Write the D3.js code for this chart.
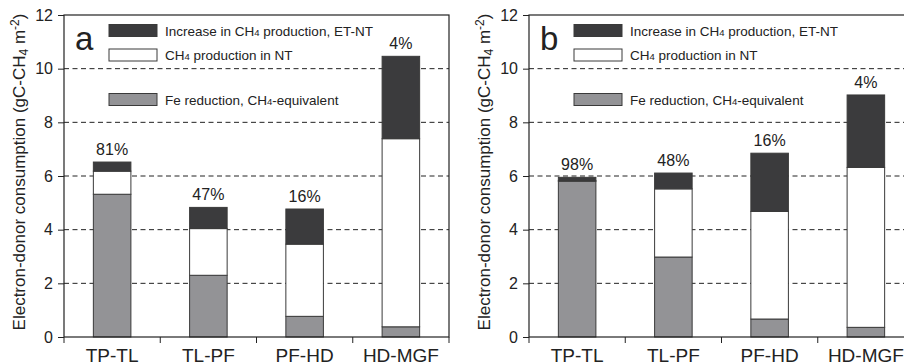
<!DOCTYPE html>
<html>
<head>
<meta charset="utf-8">
<script src="https://cdn.jsdelivr.net/npm/d3@7"></script>
<style>
  body { margin: 0; background: #fff; }
  svg { display: block; font-family: "Liberation Sans", Arial, sans-serif; }
</style>
</head>
<body>
<svg id="chart" width="904" height="364"></svg>
<script>
  var categories = ['TP-TL', 'TL-PF', 'PF-HD', 'HD-MGF'];
  var yTicks = [0, 2, 4, 6, 8, 10, 12];

  // panel a
  var feA = [5.32, 2.30, 0.77, 0.38];
  var ntA = [0.86, 1.74, 2.69, 7.01];
  var incA = [0.34, 0.79, 1.31, 3.07];
  var pctA = ['81%', '47%', '16%', '4%'];

  // panel b
  var feB = [5.80, 2.98, 0.67, 0.36];
  var ntB = [0.03, 2.54, 4.01, 5.96];
  var incB = [0.12, 0.59, 2.17, 2.70];
  var pctB = ['98%', '48%', '16%', '4%'];

  var seriesNames = ['Fe reduction, CH4-equivalent', 'CH4 production in NT', 'Increase in CH4 production, ET-NT'];
  var colors = ['#939396', '#ffffff', '#3b3b3d'];

  var svg = d3.select('#chart');
  var plotTop = 15, plotBottom = 337;
  var y = d3.scaleLinear().domain([0, 12]).range([plotBottom, plotTop]);

  function drawPanel(left, letter, fe, nt, inc, pct) {
    var width = 385;
    var x = d3.scaleBand().domain(categories).range([left, left + width]).padding(0);
    var barW = x.bandwidth() * 0.39;
    var g = svg.append('g');

    // dashed grid
    g.selectAll('line.grid')
      .data(yTicks.filter(function (d) { return d > 0 && d < 12; }))
      .enter().append('line')
      .attr('x1', left).attr('x2', left + width)
      .attr('y1', function (d) { return y(d); })
      .attr('y2', function (d) { return y(d); })
      .attr('stroke', '#222').attr('stroke-width', 1)
      .attr('stroke-dasharray', '5,3.5');

    // stacked bars
    var rows = categories.map(function (c, i) {
      return { cat: c, fe: fe[i], nt: nt[i], inc: inc[i], pct: pct[i] };
    });
    var stack = d3.stack().keys(['fe', 'nt', 'inc'])(rows);
    stack.forEach(function (layer, k) {
      g.selectAll(null)
        .data(layer)
        .enter().append('rect')
        .attr('x', function (d) { return x(d.data.cat) + (x.bandwidth() - barW) / 2; })
        .attr('width', barW)
        .attr('y', function (d) { return y(d[1]); })
        .attr('height', function (d) { return y(d[0]) - y(d[1]); })
        .attr('fill', colors[k])
        .attr('stroke', '#3a3a3a').attr('stroke-width', 1);
    });

    // percentage labels
    g.selectAll('text.pct')
      .data(rows)
      .enter().append('text')
      .attr('x', function (d) { return x(d.cat) + x.bandwidth() / 2; })
      .attr('y', function (d) { return y(d.fe + d.nt + d.inc) - 7; })
      .attr('text-anchor', 'middle')
      .attr('font-size', 16).attr('fill', '#222')
      .text(function (d) { return d.pct; });

    // frame
    g.append('rect')
      .attr('x', left).attr('y', plotTop)
      .attr('width', width).attr('height', plotBottom - plotTop)
      .attr('fill', 'none').attr('stroke', '#222').attr('stroke-width', 1.2);

    // y axis
    var yAxis = g.append('g')
      .attr('transform', 'translate(' + left + ',0)')
      .call(d3.axisLeft(y).tickValues(yTicks).tickSize(6).tickPadding(5).tickFormat(d3.format('d')));
    yAxis.select('.domain').remove();
    yAxis.selectAll('line').attr('stroke', '#222');
    yAxis.selectAll('text').attr('font-size', 16).attr('fill', '#222')
      .attr('font-family', '"Liberation Sans", Arial, sans-serif');

    // x axis: ticks at band boundaries
    var bounds = categories.map(function (c) { return x(c); }).concat([left + width]);
    g.selectAll('line.xt')
      .data(bounds)
      .enter().append('line')
      .attr('x1', function (d) { return d; }).attr('x2', function (d) { return d; })
      .attr('y1', plotBottom).attr('y2', plotBottom + 6)
      .attr('stroke', '#222');
    g.selectAll('text.xl')
      .data(categories)
      .enter().append('text')
      .attr('x', function (d) { return x(d) + x.bandwidth() / 2; })
      .attr('y', 362)
      .attr('text-anchor', 'middle')
      .attr('font-size', 19).attr('fill', '#222')
      .text(function (d) { return d; });

    // y title
    var t = g.append('text')
      .attr('transform', 'translate(' + (left - 39) + ',172) rotate(-90)')
      .attr('text-anchor', 'middle')
      .attr('font-size', 17).attr('fill', '#222');
    t.append('tspan').text('Electron-donor consumption (gC-CH');
    t.append('tspan').attr('font-size', 12).attr('dy', 3).text('4');
    t.append('tspan').attr('dy', -3).text(' m');
    t.append('tspan').attr('font-size', 12).attr('dy', -6).text('-2');
    t.append('tspan').attr('dy', 6).text(')');

    // panel letter
    g.append('text')
      .attr('x', left + 11).attr('y', 50)
      .attr('font-size', 33).attr('fill', '#222')
      .text(letter);

    // legend
    var legY = [30.5, 55, 99.5];
    var order = [2, 1, 0];
    order.forEach(function (k, i) {
      g.append('rect')
        .attr('x', left + 45).attr('y', legY[i] - 6)
        .attr('width', 48).attr('height', 12)
        .attr('fill', colors[k]).attr('stroke', '#3a3a3a').attr('stroke-width', 1);
      var lt = g.append('text')
        .attr('x', left + 56 + 45).attr('y', legY[i] + 5)
        .attr('font-size', 13.5).attr('fill', '#222');
      var parts = seriesNames[k].split('CH4');
      parts.forEach(function (p, j) {
        if (j > 0) {
          lt.append('tspan').text('CH');
          lt.append('tspan').attr('font-size', 9.5).text('4');
        }
        lt.append('tspan').text(p);
      });
    });
  }

  drawPanel(64, 'a', feA, ntA, incA, pctA);
  drawPanel(529, 'b', feB, ntB, incB, pctB);
</script>
</body>
</html>
